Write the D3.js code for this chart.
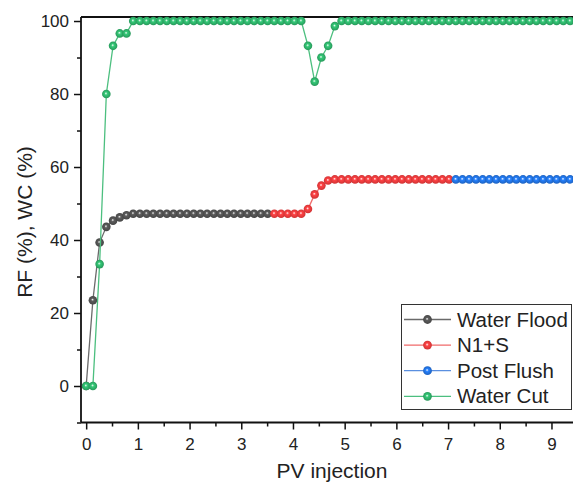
<!DOCTYPE html>
<html>
<head>
<meta charset="utf-8">
<script src="https://cdn.jsdelivr.net/npm/d3@7"></script>
<style>
body { margin: 0; background: #fff; }
text { font-family: Arial, "Liberation Sans", sans-serif; fill: #222; }
</style>
</head>
<body>
<div id="chart"></div>
<script>
var pv = [0, 0.13, 0.26, 0.39, 0.52, 0.65, 0.78, 0.91, 1.04, 1.17, 1.3, 1.43, 1.56, 1.69, 1.82, 1.95,
  2.08, 2.21, 2.34, 2.47, 2.6, 2.73, 2.86, 2.99, 3.12, 3.25, 3.38, 3.51, 3.64, 3.77, 3.9, 4.03, 4.16,
  4.29, 4.42, 4.55, 4.68, 4.81, 4.94, 5.07, 5.2, 5.33, 5.46, 5.59, 5.72, 5.85, 5.98, 6.11, 6.24, 6.37,
  6.5, 6.63, 6.76, 6.89, 7.02, 7.15, 7.28, 7.41, 7.54, 7.67, 7.8, 7.93, 8.06, 8.19, 8.32, 8.45, 8.58,
  8.71, 8.84, 8.97, 9.1, 9.23, 9.36, 9.49];

// RF for water flood, points 0..27
var waterFlood = [0, 23.5, 39.3, 43.6, 45.3, 46.2, 46.8, 47.2, 47.2, 47.2, 47.2, 47.2, 47.2, 47.2,
  47.2, 47.2, 47.2, 47.2, 47.2, 47.2, 47.2, 47.2, 47.2, 47.2, 47.2, 47.2, 47.2, 47.2];
// RF for N1+S, points 28..54
var n1s = [47.2, 47.2, 47.2, 47.2, 47.2, 48.5, 52.5, 54.9, 56.3, 56.6, 56.6, 56.6, 56.6, 56.6,
  56.6, 56.6, 56.6, 56.6, 56.6, 56.6, 56.6, 56.6, 56.6, 56.6, 56.6, 56.6, 56.6];
// RF for post flush, points 55..73
var postFlush = [56.6, 56.6, 56.6, 56.6, 56.6, 56.6, 56.6, 56.6, 56.6, 56.6, 56.6, 56.6, 56.6,
  56.6, 56.6, 56.6, 56.6, 56.6, 56.6];
// water cut, points 0..73
var waterCut = [0, 0, 33.4, 80, 93.2, 96.6, 96.6, 100, 100, 100, 100, 100, 100, 100, 100, 100,
  100, 100, 100, 100, 100, 100, 100, 100, 100, 100, 100, 100, 100, 100, 100, 100, 100,
  93.2, 83.4, 90, 93.2, 98.6, 100, 100, 100, 100, 100, 100, 100, 100, 100, 100, 100, 100,
  100, 100, 100, 100, 100, 100, 100, 100, 100, 100, 100, 100, 100, 100, 100, 100, 100, 100,
  100, 100, 100, 100, 100, 100];

var seriesNames = ["Water Flood", "N1+S", "Post Flush", "Water Cut"];
var xTicks = [0, 1, 2, 3, 4, 5, 6, 7, 8, 9];
var yTicks = [0, 20, 40, 60, 80, 100];

var series = [
  {name: seriesNames[0], x: pv.slice(0, 28), y: waterFlood, color: "#505050", line: "#6a6a6a"},
  {name: seriesNames[1], x: pv.slice(28, 55), y: n1s, color: "#f03a3c", line: "#f06a6a"},
  {name: seriesNames[2], x: pv.slice(55, 74), y: postFlush, color: "#2170dc", line: "#5a8fe0"},
  {name: seriesNames[3], x: pv, y: waterCut, color: "#2eaf68", line: "#4cbf7f"}
];

var width = 573, height = 483;
var svg = d3.select("#chart").append("svg")
    .attr("width", width)
    .attr("height", height);

var x = d3.scaleLinear().domain([-0.1, 9.6]).range([81, 81 + 51.7 * 9.7]);
var y = d3.scaleLinear().domain([-10, 101.1]).range([422.5, 17]);

// ball-like marker gradients
var defs = svg.append("defs");
series.forEach(function(s, i) {
  var g = defs.append("radialGradient").attr("id", "ball" + i)
      .attr("cx", "50%").attr("cy", "50%").attr("r", "55%")
      .attr("fx", "45%").attr("fy", "42%");
  g.append("stop").attr("offset", "0%").attr("stop-color", "#ffffff").attr("stop-opacity", 0.85);
  g.append("stop").attr("offset", "30%").attr("stop-color", d3.color(s.color).brighter(0.4));
  g.append("stop").attr("offset", "100%").attr("stop-color", d3.color(s.color).darker(0.5));
});

// axes
var yMajor = svg.append("g").attr("transform", "translate(" + x(-0.1) + ",0)")
    .call(d3.axisLeft(y).tickValues(yTicks).tickSize(7).tickPadding(5));
var yMinor = svg.append("g").attr("transform", "translate(" + x(-0.1) + ",0)")
    .call(d3.axisLeft(y).tickValues([-10, 10, 30, 50, 70, 90]).tickSize(4).tickFormat(""));
var xMajor = svg.append("g").attr("transform", "translate(0," + y(-10) + ")")
    .call(d3.axisBottom(x).tickValues(xTicks).tickSize(7).tickPadding(8));
var xMinor = svg.append("g").attr("transform", "translate(0," + y(-10) + ")")
    .call(d3.axisBottom(x).tickValues([0.5, 1.5, 2.5, 3.5, 4.5, 5.5, 6.5, 7.5, 8.5, 9.5]).tickSize(4).tickFormat(""));

[yMajor, yMinor, xMajor, xMinor].forEach(function(a) {
  a.select(".domain").remove();
  a.selectAll(".tick line").attr("stroke", "#111").attr("stroke-width", 1.5);
  a.selectAll(".tick text").style("font-size", "17px").attr("fill", "#222");
});

// frame
var frame = svg.append("g").attr("stroke", "#111").attr("stroke-width", 1.8).attr("fill", "none");
frame.append("line").attr("x1", x(-0.1)).attr("x2", x(-0.1)).attr("y1", y(101.1)).attr("y2", y(-10));
frame.append("line").attr("x1", x(-0.1)).attr("x2", width).attr("y1", y(101.1)).attr("y2", y(101.1));
frame.append("line").attr("x1", x(-0.1)).attr("x2", width).attr("y1", y(-10)).attr("y2", y(-10));

// series
var line = d3.line().x(function(d) { return x(d[0]); }).y(function(d) { return y(d[1]); });
series.forEach(function(s, i) {
  var pts = s.x.map(function(v, j) { return [v, s.y[j]]; });
  var g = svg.append("g");
  g.append("path").datum(pts).attr("d", line)
      .attr("fill", "none").attr("stroke", s.line).attr("stroke-width", 1.3);
  g.selectAll("circle").data(pts).enter().append("circle")
      .attr("cx", function(d) { return x(d[0]); })
      .attr("cy", function(d) { return y(d[1]); })
      .attr("r", 4.3)
      .attr("fill", "url(#ball" + i + ")");
});

// legend
var legend = svg.append("g");
legend.append("rect").attr("x", 401.5).attr("y", 304.5).attr("width", 170).attr("height", 105)
    .attr("fill", "#fff").attr("stroke", "#333").attr("stroke-width", 1);
series.forEach(function(s, i) {
  var ly = 319.5 + i * 25.6;
  legend.append("line").attr("x1", 404).attr("x2", 451).attr("y1", ly).attr("y2", ly)
      .attr("stroke", s.line).attr("stroke-width", 1.3);
  legend.append("circle").attr("cx", 427.5).attr("cy", ly).attr("r", 4.4)
      .attr("fill", "url(#ball" + i + ")");
  legend.append("text").attr("x", 457).attr("y", ly + 7)
      .style("font-size", "20.5px").text(s.name);
});

// axis titles
svg.append("text").attr("x", 332).attr("y", 478).attr("text-anchor", "middle")
    .style("font-size", "21px").text("PV injection");
svg.append("text").attr("transform", "translate(32,222) rotate(-90)").attr("text-anchor", "middle")
    .style("font-size", "21px").text("RF (%), WC (%)");
</script>
</body>
</html>
